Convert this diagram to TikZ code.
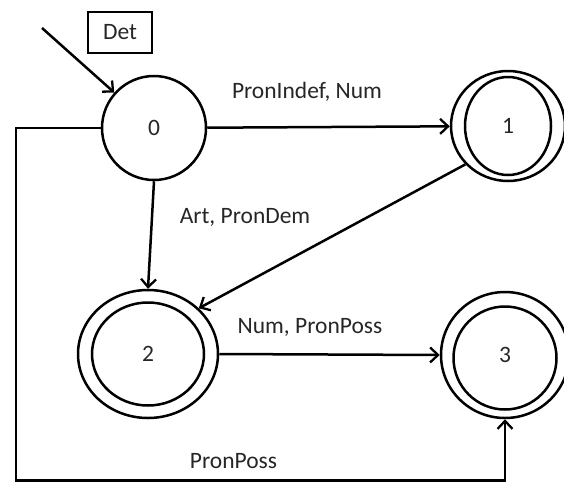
\documentclass[tikz,border=0pt]{standalone}
\usepackage{fontspec}
\setmainfont{Carlito}
\usetikzlibrary{shapes.geometric,arrows.meta}
\begin{document}
\begin{tikzpicture}[x=1pt,y=-1pt,
  line width=2.5pt,
  every node/.style={font=\fontsize{23.5}{26}\selectfont, inner sep=0pt, text=black!85},
  arr/.style={-{Straight Barb[length=8pt,width=15pt,line width=2.3pt]}},
  state/.style={draw, circle, minimum size=104pt},
  accept/.style={draw, ellipse},
  lbl/.style={}]
\useasboundingbox (0,0) rectangle (564,482);
% nodes
\node[state] (n0) at (154,128) {0};
\node[accept, minimum width=114pt, minimum height=110pt] (n1) at (508,126) {1};
\draw (n1.center) ellipse [x radius=43pt, y radius=49pt];
\node[accept, minimum width=140pt, minimum height=128pt] (n2) at (148,354) {2};
\draw (n2.center) ellipse [x radius=56pt, y radius=51.5pt];
\node[accept, minimum width=128pt, minimum height=126pt] (n3) at (505,355) {3};
\draw (505,358) ellipse [x radius=51.5pt, y radius=51.5pt];
\node[draw, line width=2.2pt, minimum width=64pt, minimum height=41pt] (det) at (120,32.5) {Det};
% labels
\node[lbl] (l01) at (307,92) {PronIndef, Num};
\node[lbl] (l02) at (245,217) {Art, PronDem};
\node[lbl] (l23) at (310,327) {Num, PronPoss};
\node[lbl] (l03) at (233.5,461) {PronPoss};
% connectors
\coordinate (s) at (42,28);
\coordinate (c1) at (16,128);
\coordinate (c2) at (16,480.5);
\draw[arr] (s) -- (n0);
\draw[arr] (n0) -- (n1);
\draw[arr] (n0.south) -- (n2.north);
\draw[arr] (n1.222) -- (n2.42);
\draw[arr] (n2.east) -- (n3.west);
\draw[arr] (n0.west) -- (c1) -- (c2) -- (n3.south |- c2) -- (n3.south);
\end{tikzpicture}
\end{document}
